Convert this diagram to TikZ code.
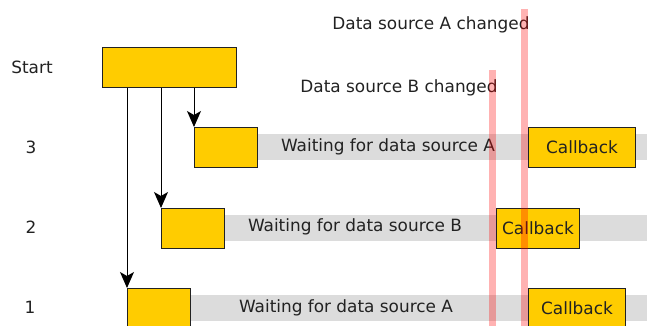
\documentclass[tikz,border=0pt]{standalone}
\usepackage{fontspec}
\setmainfont{DejaVu Sans}
\usetikzlibrary{arrows.meta}
\definecolor{taskyellow}{HTML}{FFCC00}
\definecolor{waitgray}{HTML}{DCDCDC}
\definecolor{inkgray}{HTML}{222222}

\begin{document}
\begin{tikzpicture}[x=1pt,y=-1pt,
        font=\fontsize{16.9}{20}\selectfont, text=inkgray,
        task/.style={shape=rectangle,draw=inkgray,fill=taskyellow,line width=1pt,inner sep=0pt,minimum height=40pt,anchor=north west},
        wait/.style={shape=rectangle,fill=waitgray,inner sep=0pt,minimum height=26pt,anchor=west},
        change/.style={draw=red,opacity=0.3,line width=6.5pt},
        spawn/.style={draw=black,line width=1pt,-{Stealth[length=16pt,width=14pt,inset=4pt]}}]
        \useasboundingbox (0,0) rectangle (647,326);
        \clip (0,0) rectangle (647,326);

        % waiting bands behind the rows
        \node[wait,minimum width=390pt] (band3) at (257,147) {};
        \node[wait,minimum width=423pt] (band2) at (224,227.5) {};
        \node[wait,minimum width=457pt] (band1) at (190,308) {};

        % row labels
        \node (lstart) at (32,67) {Start};
        \node (l3) at (31,147) {3};
        \node (l2) at (31,227) {2};
        \node (l1) at (30,307) {1};

        % tasks
        \node[task,minimum width=134pt] (start) at (102,47) {};
        \node[task,minimum width=63pt] (r3) at (194,127) {};
        \node[task,minimum width=63pt] (r2) at (161,208) {};
        \node[task,minimum width=63pt] (r1) at (127,288) {};

        \node (w3) at (388,147) {Waiting for data source A};
        \node (w2) at (355,227) {Waiting for data source B};
        \node (w1) at (346,307.5) {Waiting for data source A};

        \node[task,minimum width=107pt] (cb3) at (528,127) {};
        \node at (cb3.center) {Callback};
        \node[task,minimum width=83pt] (cb2) at (496,208) {};
        \node at (cb2.center) {Callback};
        \node[task,minimum width=97pt] (cb1) at (528,288) {};
        \node at (cb1.center) {Callback};

        % start spawns the three waits
        \draw[spawn] (r3.north west |- start.south) -- (r3.north west);
        \draw[spawn] (r2.north west |- start.south) -- (r2.north west);
        \draw[spawn] (r1.north west |- start.south) -- (r1.north west);

        % change events
        \node (chA) at (431,25) {Data source A changed};
        \node (chB) at (399,88) {Data source B changed};
        \coordinate (evA) at (524.5,9);
        \coordinate (evB) at (492.5,70);
        \draw[change] (evA) -- (evA |- 0,326);
        \draw[change] (evB) -- (evB |- 0,326);
\end{tikzpicture}
\end{document}
